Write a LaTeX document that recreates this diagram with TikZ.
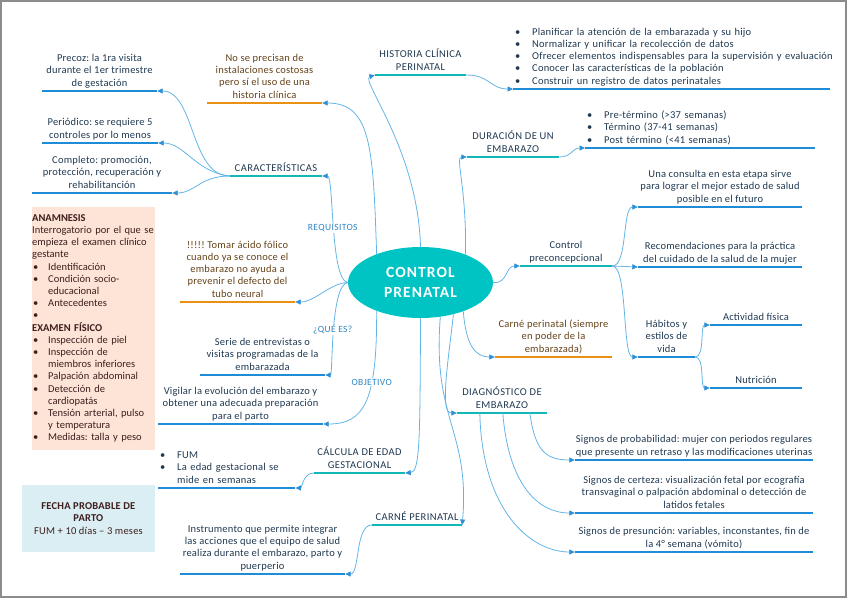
\documentclass[tikz,border=0pt]{standalone}
\usepackage{fontspec}
\setmainfont{Carlito}[LetterSpace=2]
\newfontfamily\capsfont{Carlito}[LetterSpace=4]
\newfontfamily\rootfont{Carlito}[LetterSpace=7]
\newfontfamily\plainfont{Carlito}
\usetikzlibrary{shapes.geometric, arrows.meta, positioning, calc}
\definecolor{tealfill}{RGB}{0,196,196}
\definecolor{tealln}{RGB}{18,184,184}
\definecolor{blueln}{RGB}{30,140,214}
\definecolor{orangeln}{RGB}{232,145,20}
\definecolor{connblue}{RGB}{100,180,230}
\definecolor{tipblue}{RGB}{45,143,214}
\definecolor{txtdark}{RGB}{31,56,80}
\definecolor{txtbrown}{RGB}{100,66,24}
\definecolor{labblue}{RGB}{46,134,196}
\definecolor{peach}{RGB}{252,228,214}
\definecolor{fechafill}{RGB}{218,238,243}
\definecolor{anamtxt}{RGB}{62,30,30}
\newcommand{\bitem}[1]{\mbox{\makebox[17pt][l]{\textbullet}#1}}
\newcommand{\abul}[1]{\mbox{\makebox[16pt][l]{\hspace{1pt}\textbullet}#1}}
\frenchspacing
\tikzset{
  rootnode/.style={ellipse, fill=tealfill, minimum width=145pt, minimum height=71pt, inner sep=0pt, align=center, text=white, font=\rootfont\bfseries\fontsize{15.5}{20}\selectfont},
  ul/.style={align=center, inner xsep=0pt, inner ysep=1pt, anchor=south, execute at end node=\strut},
  topic/.style={ul, text=txtdark, font=\capsfont\fontsize{10.5}{12.2}\selectfont, append after command={(\tikzlastnode.south west) edge[draw=tealln, line width=2.6pt] (\tikzlastnode.south east)}},
  sub/.style={ul, text=txtdark, append after command={(\tikzlastnode.south west) edge[draw=blueln, line width=2.6pt] (\tikzlastnode.south east)}},
  note/.style={ul, text=txtbrown, append after command={(\tikzlastnode.south west) edge[draw=orangeln, line width=2.6pt] (\tikzlastnode.south east)}},
  blist/.style={sub, align=left, anchor=south west, inner xsep=2pt},
  anam/.style={fill=peach, text=anamtxt, align=left, text width=123pt, inner xsep=0pt, inner ysep=5.5pt, anchor=north west, font=\plainfont\fontsize{10.5}{12.2}\selectfont, execute at begin node=\strut, execute at end node=\strut},
  fecha/.style={fill=fechafill, text=anamtxt, align=center, minimum width=133pt, minimum height=67pt, inner sep=0pt},
  arrow/.style={draw=connblue, line width=0.8pt, -{Triangle[length=5.5pt, width=5pt, color=tipblue]}},
  lab/.style={fill=white, inner sep=1pt, text=labblue, font=\capsfont\fontsize{9.5}{11}\selectfont},
}
\begin{document}
\begin{tikzpicture}[x=1pt, y=-1pt, font=\fontsize{10.5}{12.2}\selectfont]
\useasboundingbox (0,0) rectangle (848,599);
\draw[black!45, line width=1.5pt] (1,1) rectangle (846,597);

\node[rootnode] (root) at (420.5,282.5) {CONTROL\\PRENATAL};

\node[topic, minimum width=91pt] (hist) at (420.5,75) {HISTORIA CLÍNICA\\PERINATAL};
\node[topic, minimum width=92pt] (carac) at (276,176) {CARACTERÍSTICAS};
\node[topic, minimum width=92pt] (durac) at (513,157) {DURACIÓN DE UN\\EMBARAZO};
\node[topic, minimum width=92pt, font=\fontsize{10.5}{12.2}\selectfont] (precon) at (566,266) {Control\\preconcepcional};
\node[topic, minimum width=90pt] (diag) at (502,413) {DIAGNÓSTICO DE\\EMBARAZO};
\node[topic, minimum width=91pt] (calc) at (359.5,473) {CÁLCULA DE EDAD\\GESTACIONAL};
\node[topic, minimum width=90pt] (carne) at (417,525) {CARNÉ PERINATAL};

\node[sub, minimum width=115pt] (precoz) at (99.5,91) {Precoz: la 1ra visita\\durante el 1er trimestre\\de gestación};
\node[sub, minimum width=116pt] (period) at (100,143) {Periódico: se requiere 5\\controles por lo menos};
\node[sub, minimum width=140pt] (complet) at (102,193) {Completo: promoción,\\protección, recuperación y\\rehabilitanción};
\node[note, minimum width=115pt] (noprec) at (264.5,103) {No se precisan de\\instalaciones costosas\\pero sí el uso de una\\historia clínica};
\node[note, minimum width=115pt] (acido) at (237.5,302) {!!!!! Tomar ácido fólico\\cuando ya se conoce el\\embarazo no ayuda a\\prevenir el defecto del\\tubo neural};
\node[sub, minimum width=125pt] (serie) at (262.5,375) {Serie de entrevistas o\\visitas programadas de la\\embarazada};
\node[sub, minimum width=165pt] (vigil) at (240.5,424) {Vigilar la evolución del embarazo y\\obtener una adecuada preparación\\para el parto};
\node[sub, minimum width=165pt] (instru) at (262.5,574) {Instrumento que permite integrar\\las acciones que el equipo de salud\\realiza durante el embarazo, parto y\\puerperio};

\node[blist, text width=313pt] (histlist) at (513,89) {\bitem{Planificar la atención de la embarazada y su hijo}\\\bitem{Normalizar y unificar la recolección de datos}\\\bitem{Ofrecer elementos indispensables para la supervisión y evaluación}\\\bitem{Conocer las características de la población}\\\bitem{Construir un registro de datos perinatales}};
\node[blist, text width=226pt] (duraclist) at (585,148) {\bitem{Pre-término (>37 semanas)}\\\bitem{Término (37-41 semanas)}\\\bitem{Post término (<41 semanas)}};
\node[blist, text width=133pt] (fum) at (158,488) {\bitem{FUM}\\\bitem{La edad gestacional se}\\\hspace*{17pt}mide en semanas};

\node[sub, minimum width=164pt] (consulta) at (720,207) {Una consulta en esta etapa sirve\\para lograr el mejor estado de salud\\posible en el futuro};
\node[sub, minimum width=164pt] (recom) at (720,267) {Recomendaciones para la práctica\\del cuidado de la salud de la mujer};
\node[sub, minimum width=57pt] (habit) at (666.5,357) {Hábitos y\\estilos de\\vida};
\node[sub, minimum width=92pt] (activ) at (756,325) {Actividad física};
\node[sub, minimum width=92pt] (nutri) at (756,388) {Nutrición};
\node[note, minimum width=117pt] (carnesi) at (553.5,357) {Carné perinatal (siempre\\en poder de la\\embarazada)};
\node[sub, minimum width=238pt] (probab) at (694,460) {Signos de probabilidad: mujer con periodos regulares\\que presente un retraso y las modificaciones uterinas};
\node[sub, minimum width=238pt] (certeza) at (694,513) {Signos de certeza: visualización fetal por ecografía\\transvaginal o palpación abdominal o detección de\\latidos fetales};
\node[sub, minimum width=238pt] (presun) at (694,552) {Signos de presunción: variables, inconstantes, fin de\\la 4° semana (vómito)};

\node[anam] (anamnesis) at (32,207) {\textbf{ANAMNESIS}\\Interrogatorio por el que se\\empieza el examen clínico\\gestante\\\abul{Identificación}\\\abul{Condición socio-}\\\hspace*{16pt}educacional\\\abul{Antecedentes}\\\abul{}\\\textbf{EXAMEN FÍSICO}\\\abul{Inspección de piel}\\\abul{Inspección de}\\\hspace*{16pt}miembros inferiores\\\abul{Palpación abdominal}\\\abul{Detección de}\\\hspace*{16pt}cardiopatás\\\abul{Tensión arterial, pulso}\\\hspace*{16pt}y temperatura\\\abul{Medidas: talla y peso}};
\node[fecha] (fpp) at (88.5,518.5) {\textbf{FECHA PROBABLE DE}\\\textbf{PARTO}\\FUM + 10 días – 3 meses};

\draw[arrow] (root.north) .. controls (418,150) and (360,80) .. (hist.south west);
\draw[arrow] (root.147) .. controls (373,150) and (372,103) .. (noprec.south east);
\draw[arrow] (root.32) .. controls (467,190) and (455,157) .. (durac.south west);
\draw[arrow] (root.east) .. controls (508,284) and (505,266) .. (precon.south west);
\draw[arrow] (root.-34) .. controls (466,345) and (475,357) .. (carnesi.south west);
\draw[arrow] (root.-44) .. controls (447,370) and (440,413) .. (diag.south west);
\draw[arrow] (root.-60) .. controls (432,420) and (470,430) .. (carne.south east);
\draw[arrow] (root.south) .. controls (420,440) and (420,472) .. (calc.south east);
\draw[arrow] (root.213) .. controls (377,400) and (365,424) .. node[lab, pos=0.35]{OBJETIVO} (vigil.south east);
\draw[arrow] (root.west) .. controls (330,280) and (334,176) .. node[lab]{REQUISITOS} (carac.south east);
\draw[arrow] (root.west) .. controls (330,283) and (315,302) .. (acido.south east);
\draw[arrow] (root.west) .. controls (330,285) and (333,375) .. node[lab]{¿QUÉ ES?} (serie.south east);

\draw[arrow] (carac.south west) .. controls (190,176) and (195,91) .. (precoz.south east);
\draw[arrow] (carac.south west) .. controls (195,172) and (185,143) .. (period.south east);
\draw[arrow] (carac.south west) .. controls (200,176) and (195,193) .. (complet.south east);
\draw[arrow] (hist.south east) .. controls (490,75) and (490,89) .. (histlist.south west);
\draw[arrow] (durac.south east) .. controls (572,157) and (572,148) .. (duraclist.south west);
\draw[arrow] (precon.south east) .. controls (628,266) and (622,207) .. (consulta.south west);
\draw[arrow] (precon.south east) -- (recom.south west);
\draw[arrow] (precon.south east) .. controls (628,266) and (622,357) .. (habit.south west);
\draw[arrow] (habit.south east) .. controls (705,357) and (700,325) .. (activ.south west);
\draw[arrow] (habit.south east) .. controls (705,357) and (700,388) .. (nutri.south west);
\draw[arrow] ([xshift=73pt]diag.south west) .. controls (535,450) and (545,460) .. (probab.south west);
\draw[arrow] ([xshift=46pt]diag.south west) .. controls (508,480) and (535,513) .. (certeza.south west);
\draw[arrow] ([xshift=23pt]diag.south west) .. controls (482,510) and (530,552) .. (presun.south west);
\draw[arrow] (calc.south west) .. controls (303,473) and (302,488) .. (fum.south east);
\draw[arrow] (carne.south west) .. controls (355,525) and (360,574) .. (instru.south east);
\end{tikzpicture}
\end{document}
